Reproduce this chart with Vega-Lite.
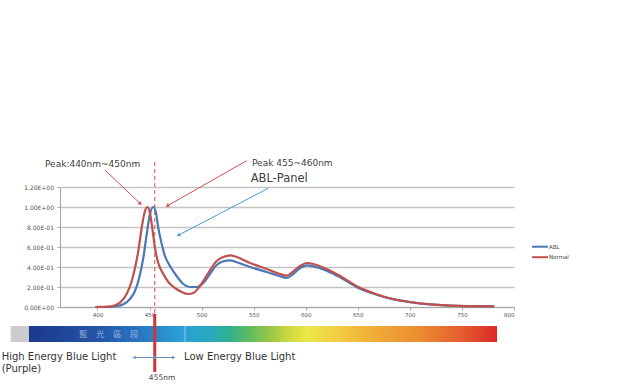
{
  "$schema": "https://vega.github.io/schema/vega-lite/v6.json",
  "width": 454,
  "height": 120,
  "autosize": {"type": "none"},
  "padding": {"left": 60, "top": 187, "right": 126, "bottom": 81},
  "background": "white",
  "config": {
    "view": {"stroke": null},
    "font": "DejaVu Sans"
  },
  "datasets": {
    "spectrum": [
      {"series": "ABL", "nm": 398, "v": 0},
      {"series": "ABL", "nm": 412, "v": 0.0},
      {"series": "ABL", "nm": 418, "v": 0.008},
      {"series": "ABL", "nm": 425, "v": 0.027},
      {"series": "ABL", "nm": 431, "v": 0.077},
      {"series": "ABL", "nm": 436, "v": 0.16},
      {"series": "ABL", "nm": 440, "v": 0.29},
      {"series": "ABL", "nm": 444, "v": 0.49},
      {"series": "ABL", "nm": 447.3, "v": 0.73},
      {"series": "ABL", "nm": 450.4, "v": 0.93},
      {"series": "ABL", "nm": 453.6, "v": 1.0},
      {"series": "ABL", "nm": 456.2, "v": 0.94},
      {"series": "ABL", "nm": 458.4, "v": 0.79},
      {"series": "ABL", "nm": 461.7, "v": 0.63},
      {"series": "ABL", "nm": 464.8, "v": 0.51},
      {"series": "ABL", "nm": 469.6, "v": 0.41},
      {"series": "ABL", "nm": 476, "v": 0.31},
      {"series": "ABL", "nm": 482.4, "v": 0.23},
      {"series": "ABL", "nm": 488.8, "v": 0.2},
      {"series": "ABL", "nm": 495.3, "v": 0.2},
      {"series": "ABL", "nm": 501.6, "v": 0.24},
      {"series": "ABL", "nm": 508, "v": 0.33},
      {"series": "ABL", "nm": 514.5, "v": 0.42},
      {"series": "ABL", "nm": 520.8, "v": 0.457},
      {"series": "ABL", "nm": 527.3, "v": 0.467},
      {"series": "ABL", "nm": 533.7, "v": 0.447},
      {"series": "ABL", "nm": 546.5, "v": 0.4},
      {"series": "ABL", "nm": 562.5, "v": 0.35},
      {"series": "ABL", "nm": 575.3, "v": 0.307},
      {"series": "ABL", "nm": 581.7, "v": 0.29},
      {"series": "ABL", "nm": 588, "v": 0.33},
      {"series": "ABL", "nm": 594.5, "v": 0.39},
      {"series": "ABL", "nm": 600.9, "v": 0.417},
      {"series": "ABL", "nm": 607.3, "v": 0.407},
      {"series": "ABL", "nm": 620, "v": 0.363},
      {"series": "ABL", "nm": 633, "v": 0.297},
      {"series": "ABL", "nm": 650.5, "v": 0.19},
      {"series": "ABL", "nm": 666.5, "v": 0.128},
      {"series": "ABL", "nm": 682.5, "v": 0.081},
      {"series": "ABL", "nm": 700, "v": 0.049},
      {"series": "ABL", "nm": 722.5, "v": 0.023},
      {"series": "ABL", "nm": 738.5, "v": 0.013},
      {"series": "ABL", "nm": 760, "v": 0.009},
      {"series": "ABL", "nm": 781, "v": 0.007},
      {"series": "Normal", "nm": 398, "v": 0},
      {"series": "Normal", "nm": 410, "v": 0.003},
      {"series": "Normal", "nm": 416, "v": 0.015},
      {"series": "Normal", "nm": 421.6, "v": 0.043},
      {"series": "Normal", "nm": 428, "v": 0.13},
      {"series": "Normal", "nm": 432.9, "v": 0.26},
      {"series": "Normal", "nm": 436, "v": 0.39},
      {"series": "Normal", "nm": 439.2, "v": 0.56},
      {"series": "Normal", "nm": 442.4, "v": 0.79},
      {"series": "Normal", "nm": 445.6, "v": 0.96},
      {"series": "Normal", "nm": 447.9, "v": 1.0},
      {"series": "Normal", "nm": 450.4, "v": 0.94},
      {"series": "Normal", "nm": 453, "v": 0.76},
      {"series": "Normal", "nm": 455.2, "v": 0.59},
      {"series": "Normal", "nm": 458.4, "v": 0.44},
      {"series": "Normal", "nm": 463.2, "v": 0.33},
      {"series": "Normal", "nm": 468, "v": 0.25},
      {"series": "Normal", "nm": 474.4, "v": 0.19},
      {"series": "Normal", "nm": 480.9, "v": 0.15},
      {"series": "Normal", "nm": 487.2, "v": 0.13},
      {"series": "Normal", "nm": 492, "v": 0.14},
      {"series": "Normal", "nm": 498.4, "v": 0.21},
      {"series": "Normal", "nm": 506.4, "v": 0.34},
      {"series": "Normal", "nm": 514.5, "v": 0.46},
      {"series": "Normal", "nm": 520.8, "v": 0.5},
      {"series": "Normal", "nm": 527.3, "v": 0.517},
      {"series": "Normal", "nm": 533.7, "v": 0.5},
      {"series": "Normal", "nm": 546.5, "v": 0.44},
      {"series": "Normal", "nm": 562.5, "v": 0.38},
      {"series": "Normal", "nm": 575.3, "v": 0.33},
      {"series": "Normal", "nm": 581.7, "v": 0.313},
      {"series": "Normal", "nm": 588, "v": 0.357},
      {"series": "Normal", "nm": 594.5, "v": 0.41},
      {"series": "Normal", "nm": 600.9, "v": 0.44},
      {"series": "Normal", "nm": 607.3, "v": 0.43},
      {"series": "Normal", "nm": 620, "v": 0.38},
      {"series": "Normal", "nm": 633, "v": 0.31},
      {"series": "Normal", "nm": 650.5, "v": 0.2},
      {"series": "Normal", "nm": 666.5, "v": 0.133},
      {"series": "Normal", "nm": 682.5, "v": 0.083},
      {"series": "Normal", "nm": 700, "v": 0.05},
      {"series": "Normal", "nm": 722.5, "v": 0.023},
      {"series": "Normal", "nm": 738.5, "v": 0.013},
      {"series": "Normal", "nm": 760, "v": 0.009},
      {"series": "Normal", "nm": 781, "v": 0.007}
    ],
    "bands": [
      {"id": "gray", "nm": 316.7, "nm2": 334.2, "v": -0.19, "v2": -0.35},
      {"id": "visible", "nm": 334.2, "nm2": 783.7, "v": -0.19, "v2": -0.35}
    ],
    "segments": [
      {"id": "dash", "nm": 455, "v": 1.45, "nm2": 455, "v2": -0.13},
      {"id": "marker", "nm": 455, "v": -0.07, "nm2": 455, "v2": -0.65},
      {"id": "a1", "nm": 407.2, "v": 1.37, "nm2": 442.0, "v2": 1.025},
      {"id": "a2", "nm": 543.3, "v": 1.463, "nm2": 466.5, "v2": 1.008},
      {"id": "a3", "nm": 564.0, "v": 1.187, "nm2": 477.2, "v2": 0.715},
      {"id": "a4", "nm": 435.0, "v": -0.505, "nm2": 473.5, "v2": -0.505},
      {"id": "seam", "nm": 484, "v": -0.19, "nm2": 484, "v2": -0.35}
    ],
    "heads": [
      {"id": "h1", "nm": 440.7, "v": 1.037},
      {"id": "h2", "nm": 467.6, "v": 1.015},
      {"id": "h3", "nm": 478.2, "v": 0.721},
      {"id": "h4l", "nm": 435.2, "v": -0.505},
      {"id": "h4r", "nm": 473.3, "v": -0.505},
      {"id": "dot", "nm": 455, "v": -0.505}
    ],
    "notes": [
      {"id": "peak1", "label": "Peak:440nm~450nm", "nm": 349.6, "v": 1.43},
      {"id": "peak2", "label": "Peak 455~460nm", "nm": 548.4, "v": 1.437},
      {"id": "abl", "label": "ABL-Panel", "nm": 547.1, "v": 1.28},
      {"id": "high", "label": "High Energy Blue Light", "nm": 308, "v": -0.5},
      {"id": "purple", "label": "(Purple)", "nm": 308, "v": -0.62},
      {"id": "low", "label": "Low Energy Blue Light", "nm": 483.1, "v": -0.5},
      {"id": "nm455", "label": "455nm", "nm": 462, "v": -0.713},
      {"id": "zh", "label": "藍　光　區　段", "nm": 410.8, "v": -0.27}
    ]
  },
  "encoding": {
    "x": {
      "field": "nm", "type": "quantitative", "title": null,
      "scale": {"domain": [364, 800], "nice": false, "zero": false},
      "axis": {
        "values": [400, 450, 500, 550, 600, 650, 700, 750, 800],
        "grid": false, "domain": true, "domainColor": "#a6a6a6", "domainWidth": 1,
        "ticks": true, "tickSize": 3, "tickColor": "#a6a6a6",
        "labelFontSize": 5.5, "labelColor": "#555555", "labelPadding": 2,
        "labelFont": "DejaVu Sans"
      }
    },
    "y": {
      "field": "v", "type": "quantitative", "title": null,
      "scale": {"domain": [0, 1.2], "nice": false, "zero": false},
      "axis": {
        "values": [0, 0.2, 0.4, 0.6, 0.8, 1.0, 1.2],
        "grid": true, "gridColor": "#c4c4c4", "gridWidth": 1.3,
        "domain": true, "domainColor": "#a6a6a6", "domainWidth": 1,
        "ticks": true, "tickSize": 3, "tickColor": "#a6a6a6",
        "labelFontSize": 6, "labelColor": "#555555", "labelPadding": 3.5,
        "labelFont": "DejaVu Sans",
        "labelExpr": "datum.value < 0.01 ? '0.00E+00' : (datum.value >= 0.99 ? format(datum.value, '.2f') + 'E+00' : format(datum.value * 10, '.2f') + 'E-01')"
      }
    }
  },
  "layer": [
    {
      "data": {"name": "bands"},
      "transform": [{"filter": "datum.id == 'gray'"}],
      "mark": {"type": "rect", "color": "#cccccc"},
      "encoding": {"x2": {"field": "nm2"}, "y2": {"field": "v2"}}
    },
    {
      "data": {"name": "bands"},
      "transform": [{"filter": "datum.id == 'visible'"}],
      "mark": {
        "type": "rect",
        "color": {
          "gradient": "linear", "x1": 0, "y1": 0, "x2": 1, "y2": 0,
          "stops": [
            {"offset": 0, "color": "#1b3a8c"},
            {"offset": 0.066, "color": "#1f4596"},
            {"offset": 0.15, "color": "#2555a8"},
            {"offset": 0.235, "color": "#2a75c0"},
            {"offset": 0.3, "color": "#2a95d0"},
            {"offset": 0.33, "color": "#2aa0d5"},
            {"offset": 0.385, "color": "#28a8c0"},
            {"offset": 0.427, "color": "#30b090"},
            {"offset": 0.47, "color": "#60bb60"},
            {"offset": 0.515, "color": "#98c848"},
            {"offset": 0.556, "color": "#d0d840"},
            {"offset": 0.594, "color": "#ece848"},
            {"offset": 0.662, "color": "#f2cc40"},
            {"offset": 0.748, "color": "#f0a838"},
            {"offset": 0.835, "color": "#ec8c30"},
            {"offset": 0.92, "color": "#e46030"},
            {"offset": 1, "color": "#dc2828"}
          ]
        }
      },
      "encoding": {"x2": {"field": "nm2"}, "y2": {"field": "v2"}}
    },
    {
      "data": {"name": "segments"},
      "transform": [{"filter": "datum.id == 'seam'"}],
      "mark": {"type": "rule", "color": "#ffffff", "opacity": 0.45, "strokeWidth": 1},
      "encoding": {"x2": {"field": "nm2"}, "y2": {"field": "v2"}}
    },
    {
      "data": {"name": "notes"},
      "transform": [{"filter": "datum.id == 'zh'"}],
      "mark": {"type": "text", "font": "Noto Sans CJK TC", "fontSize": 8.5, "color": "#a9c2ec", "opacity": 0.8, "align": "center", "baseline": "middle"},
      "encoding": {"text": {"field": "label"}}
    },
    {
      "data": {"name": "segments"},
      "transform": [{"filter": "datum.id == 'dash'"}],
      "mark": {"type": "rule", "color": "#e04848", "strokeWidth": 1, "strokeDash": [4, 3]},
      "encoding": {"x2": {"field": "nm2"}, "y2": {"field": "v2"}}
    },
    {
      "data": {"name": "spectrum"},
      "mark": {"type": "line", "strokeWidth": 2.2, "interpolate": "monotone"},
      "encoding": {
        "color": {
          "field": "series", "type": "nominal",
          "scale": {"domain": ["ABL", "Normal"], "range": ["#4a78b5", "#c0504d"]},
          "legend": {
            "orient": "none", "legendX": 475, "legendY": 54.7, "title": null,
            "symbolType": "M-2,0H2", "symbolSize": 64, "symbolStrokeWidth": 2,
            "labelFontSize": 5.5, "labelOffset": 4, "rowPadding": 1.5, "padding": 0,
            "labelColor": "#444444", "labelFont": "DejaVu Sans"
          }
        }
      }
    },
    {
      "data": {"name": "segments"},
      "transform": [{"filter": "datum.id == 'a1' || datum.id == 'a2'"}],
      "mark": {"type": "rule", "color": "#d05050", "strokeWidth": 1},
      "encoding": {"x2": {"field": "nm2"}, "y2": {"field": "v2"}}
    },
    {
      "data": {"name": "segments"},
      "transform": [{"filter": "datum.id == 'a3'"}],
      "mark": {"type": "rule", "color": "#4a9ad0", "strokeWidth": 1},
      "encoding": {"x2": {"field": "nm2"}, "y2": {"field": "v2"}}
    },
    {
      "data": {"name": "segments"},
      "transform": [{"filter": "datum.id == 'a4'"}],
      "mark": {"type": "rule", "color": "#6f8fb8", "strokeWidth": 1},
      "encoding": {"x2": {"field": "nm2"}, "y2": {"field": "v2"}}
    },
    {
      "data": {"name": "heads"},
      "transform": [{"filter": "datum.id == 'h1'"}],
      "mark": {"type": "point", "shape": "triangle", "angle": 133, "filled": true, "size": 18, "color": "#d05050", "opacity": 1},
      "encoding": {}
    },
    {
      "data": {"name": "heads"},
      "transform": [{"filter": "datum.id == 'h2'"}],
      "mark": {"type": "point", "shape": "triangle", "angle": 240, "filled": true, "size": 18, "color": "#d05050", "opacity": 1},
      "encoding": {}
    },
    {
      "data": {"name": "heads"},
      "transform": [{"filter": "datum.id == 'h3'"}],
      "mark": {"type": "point", "shape": "triangle", "angle": 242, "filled": true, "size": 18, "color": "#4a9ad0", "opacity": 1},
      "encoding": {}
    },
    {
      "data": {"name": "heads"},
      "transform": [{"filter": "datum.id == 'h4l'"}],
      "mark": {"type": "point", "shape": "triangle-left", "filled": true, "size": 14, "color": "#6f8fb8", "opacity": 1},
      "encoding": {}
    },
    {
      "data": {"name": "heads"},
      "transform": [{"filter": "datum.id == 'h4r'"}],
      "mark": {"type": "point", "shape": "triangle-right", "filled": true, "size": 14, "color": "#6f8fb8", "opacity": 1},
      "encoding": {}
    },
    {
      "data": {"name": "segments"},
      "transform": [{"filter": "datum.id == 'marker'"}],
      "mark": {"type": "rule", "color": "#d0343a", "strokeWidth": 3},
      "encoding": {"x2": {"field": "nm2"}, "y2": {"field": "v2"}}
    },
    {
      "data": {"name": "heads"},
      "transform": [{"filter": "datum.id == 'dot'"}],
      "mark": {"type": "point", "shape": "circle", "filled": true, "size": 10, "color": "#6f8fb8", "opacity": 1},
      "encoding": {}
    },
    {
      "data": {"name": "notes"},
      "transform": [{"filter": "datum.id == 'peak1' || datum.id == 'peak2'"}],
      "mark": {"type": "text", "fontSize": 9, "color": "#404040", "align": "left", "baseline": "middle"},
      "encoding": {"text": {"field": "label"}}
    },
    {
      "data": {"name": "notes"},
      "transform": [{"filter": "datum.id == 'abl'"}],
      "mark": {"type": "text", "fontSize": 11.5, "color": "#404040", "align": "left", "baseline": "middle"},
      "encoding": {"text": {"field": "label"}}
    },
    {
      "data": {"name": "notes"},
      "transform": [{"filter": "datum.id == 'high' || datum.id == 'purple' || datum.id == 'low'"}],
      "mark": {"type": "text", "fontSize": 10, "color": "#333333", "align": "left", "baseline": "middle"},
      "encoding": {"text": {"field": "label"}}
    },
    {
      "data": {"name": "notes"},
      "transform": [{"filter": "datum.id == 'nm455'"}],
      "mark": {"type": "text", "fontSize": 7.5, "color": "#444444", "align": "center", "baseline": "middle"},
      "encoding": {"text": {"field": "label"}}
    }
  ]
}
